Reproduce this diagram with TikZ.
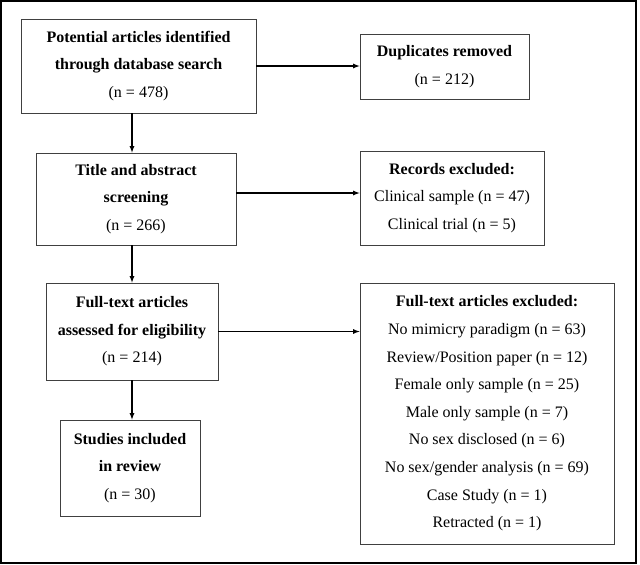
\documentclass[tikz,border=0pt]{standalone}
\usepackage{fontspec}
\setmainfont{Liberation Serif}
\usepackage{tikz}
\usetikzlibrary{shapes.geometric, arrows}
\tikzstyle{stage} = [rectangle, draw=black!75, line width=0.8pt, inner sep=0pt, align=center, font=\fontsize{16}{27.6}\selectfont]
\tikzstyle{removed} = [rectangle, draw=black!75, line width=0.8pt, inner sep=0pt, align=center, font=\fontsize{16}{27.6}\selectfont]
\tikzstyle{arrow} = [line width=1.2pt,->,>=latex]

\begin{document}
\begin{tikzpicture}[x=1pt, y=1pt]
	\useasboundingbox (0,0) rectangle (640,-565);
	\draw[line width=1.3pt] (1,-1) rectangle (636,-563);
	
	\node(identified) [stage, minimum width=235pt, minimum height=94pt] at (138.5,-66) {\textbf{Potential articles identified}\\\textbf{through database search}\\(n = 478)};
	\node(screening) [stage, node distance=133pt, below of=identified, xshift=-2.5pt, minimum width=200pt, minimum height=92pt] {\textbf{Title and abstract}\\\textbf{screening}\\(n = 266)};
	\node(eligibility) [stage, node distance=132.5pt, below of=screening, xshift=-4pt, minimum width=172pt, minimum height=97pt] {\textbf{Full-text articles}\\\textbf{assessed for eligibility}\\(n = 214)};
	\node(included) [stage, node distance=136.5pt, below of=eligibility, xshift=-2pt, minimum width=140pt, minimum height=96pt] {\textbf{Studies included}\\\textbf{in review}\\(n = 30)};
	
	\node(duplicates) [removed, node distance=306pt, right of=identified, yshift=-0.5pt, minimum width=169pt, minimum height=65pt] {\textbf{Duplicates removed}\\(n = 212)};
	\node(records_excluded) [removed, node distance=316pt, right of=screening, yshift=1pt, minimum width=184pt, minimum height=94pt] {\textbf{Records excluded:}\\Clinical sample (n = 47)\\Clinical trial (n = 5)};
	\node(fulltext_excluded) [removed, node distance=355pt, right of=eligibility, yshift=-82pt, minimum width=254pt, minimum height=261pt] {\textbf{Full-text articles excluded:}\\No mimicry paradigm (n = 63)\\Review/Position paper (n = 12)\\Female only sample (n = 25)\\Male only sample (n = 7)\\No sex disclosed (n = 6)\\No sex/gender analysis (n = 69)\\Case Study (n = 1)\\Retracted (n = 1)};
	
	\draw[arrow] (identified.south -| eligibility) -- (screening.north -| eligibility);
	\draw[arrow] (screening.south -| eligibility) -- (eligibility.north);
	\draw[arrow] (eligibility.south) -- (included.north -| eligibility);
	\draw[arrow] (identified.east) -- (identified.east -| duplicates.west);
	\draw[arrow] ([yshift=6pt]screening.east) -- ([yshift=6pt]screening.east -| records_excluded.west);
	\draw[arrow] (eligibility.east) -- (eligibility.east -| fulltext_excluded.west);
\end{tikzpicture}
\end{document}
